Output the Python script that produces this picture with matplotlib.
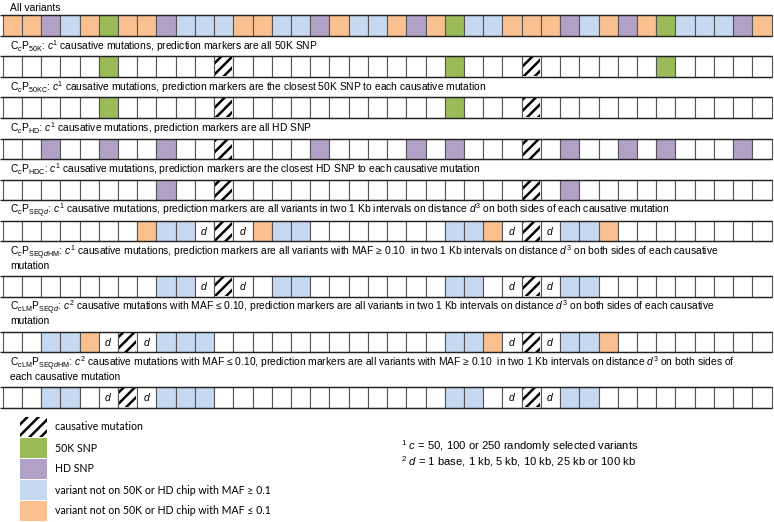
import matplotlib
matplotlib.use("Agg")
import matplotlib.pyplot as plt
from matplotlib.patches import Rectangle

plt.rcParams['font.family'] = ['Liberation Sans', 'DejaVu Sans']
plt.rcParams['mathtext.fontset'] = 'custom'
plt.rcParams['mathtext.rm'] = 'Liberation Sans'
plt.rcParams['mathtext.it'] = 'Liberation Sans:italic'
plt.rcParams['mathtext.bf'] = 'Liberation Sans:bold'
plt.rcParams['hatch.color'] = 'black'
plt.rcParams['hatch.linewidth'] = 1.8

N_CELLS = 40

# cell codes: G = 50K SNP, P = HD SNP, B = MAF >= 0.1, O = MAF <= 0.1,
# X = causative mutation, D = distance d, . = empty
def make_row(G=(), P=(), B=(), O=(), X=(), D=()):
    row = ['.'] * N_CELLS
    for code, idx in (('G', G), ('P', P), ('B', B), ('O', O), ('X', X), ('D', D)):
        for i in idx:
            row[i] = code
    return ''.join(row)

all_variants = "OOPBOGOOPBBBOOBBPOBBOPOGBBOOOPBOPOGBBBPO"

rows = [
    all_variants,
    make_row(G=[5, 23, 34], X=[11, 27]),
    make_row(G=[5, 23], X=[11, 27]),
    make_row(P=[2, 5, 8, 16, 21, 23, 29, 32, 34, 38], X=[11, 27]),
    make_row(P=[8, 29], X=[11, 27]),
    make_row(O=[7, 13, 25, 31], B=[8, 9, 14, 15, 23, 24, 29, 30], D=[10, 12, 26, 28], X=[11, 27]),
    make_row(B=[8, 9, 14, 15, 23, 24, 29, 30], D=[10, 12, 26, 28], X=[11, 27]),
    make_row(O=[4, 25, 31], B=[2, 3, 8, 9, 10, 23, 24, 29, 30], D=[5, 7, 26, 28], X=[6, 27]),
    make_row(B=[2, 3, 8, 9, 10, 23, 24, 29, 30], D=[5, 7, 26, 28], X=[6, 27]),
]

titles = [
    ["All variants"],
    [r"C$_{c}$P$_{\mathrm{50K}}$: $c^{1}$ causative mutations, prediction markers are all 50K SNP"],
    [r"C$_{c}$P$_{\mathrm{50KC}}$: $c^{1}$ causative mutations, prediction markers are the closest 50K SNP to each causative mutation"],
    [r"C$_{c}$P$_{\mathrm{HD}}$: $c^{1}$ causative mutations, prediction markers are all HD SNP"],
    [r"C$_{c}$P$_{\mathrm{HDC}}$: $c^{1}$ causative mutations, prediction markers are the closest HD SNP to each causative mutation"],
    [r"C$_{c}$P$_{\mathrm{SEQ}d}$: $c^{1}$ causative mutations, prediction markers are all variants in two 1 Kb intervals on distance $d^{3}$ on both sides of each causative mutation"],
    [r"C$_{c}$P$_{\mathrm{SEQ}d\mathrm{HM}}$: $c^{1}$ causative mutations, prediction markers are all variants with MAF ≥ 0.10  in two 1 Kb intervals on distance $d^{3}$ on both sides of each causative",
     "mutation"],
    [r"C$_{c\mathrm{LM}}$P$_{\mathrm{SEQ}d}$: $c^{2}$ causative mutations with MAF ≤ 0.10, prediction markers are all variants in two 1 Kb intervals on distance $d^{3}$ on both sides of each causative",
     "mutation"],
    [r"C$_{c\mathrm{LM}}$P$_{\mathrm{SEQ}d\mathrm{HM}}$: $c^{2}$ causative mutations with MAF ≤ 0.10, prediction markers are all variants with MAF ≥ 0.10  in two 1 Kb intervals on distance $d^{3}$ on both sides of",
     "each causative mutation"],
]

legend_codes = ['X', 'G', 'P', 'B', 'O']
legend_labels = ["causative mutation", "50K SNP", "HD SNP",
                 "variant not on 50K or HD chip with MAF ≥ 0.1",
                 "variant not on 50K or HD chip with MAF ≤ 0.1"]

footnotes = [r"$^{1}$ $c$ = 50, 100 or 250 randomly selected variants",
             r"$^{2}$ $d$ = 1 base, 1 kb, 5 kb, 10 kb, 25 kb or 100 kb"]

colors = {'G': '#9BBB59', 'P': '#B2A1C7', 'B': '#C6D9F0', 'O': '#FAC090',
          '.': 'white', 'X': 'white', 'D': 'white'}

# layout (pixels)
x0, cw, rh = 2.7, 19.22, 20.5
bar_tops = [15, 56, 97, 138.5, 179.5, 220.5, 276, 331.5, 387]
title_off = 10
line_gap = 13.5

fig = plt.figure(figsize=(7.74, 5.22), dpi=100)
ax = fig.add_axes([0, 0, 1, 1])
ax.set_xlim(0, 774)
ax.set_ylim(522, 0)
ax.axis('off')

for row, top, lines in zip(rows, bar_tops, titles):
    ty = top - title_off - line_gap * (len(lines) - 1)
    if top == bar_tops[0]:
        ty = top - 7
    for k, line in enumerate(lines):
        ax.text(10, ty + k * line_gap, line, fontsize=7.4, va='center', ha='left')
    for i, code in enumerate(row):
        x = x0 + i * cw
        ax.add_patch(Rectangle((x, top), cw, rh, facecolor=colors[code],
                               edgecolor='#555555', linewidth=0.8))
        if code == 'X':
            ax.add_patch(Rectangle((x + 1, top + 0.5), cw - 2, rh - 1, facecolor='none',
                                   hatch='///', edgecolor='black', linewidth=0))
        elif code == 'D':
            ax.text(x + cw / 2, top + rh / 2, r"$d$", fontsize=7.5, ha='center', va='center')
    ax.hlines([top, top + rh], 0, x0 + N_CELLS * cw, color='#222222', linewidth=1.0)

# legend
leg_top, leg_h = 417, 21
for k, (code, label) in enumerate(zip(legend_codes, legend_labels)):
    y = leg_top + k * leg_h
    if code == 'X':
        ax.add_patch(Rectangle((20, y), 27, leg_h - 1, facecolor='white',
                               hatch='///', edgecolor='black', linewidth=0))
    else:
        ax.add_patch(Rectangle((20, y), 27, leg_h - 1, facecolor=colors[code], linewidth=0))
    ax.text(55, y + leg_h / 2 - 0.5, label, fontsize=7.6, va='center', ha='left',
            family=['Lato', 'DejaVu Sans'])

for k, note in enumerate(footnotes):
    ax.text(401, 446 + k * 16, note, fontsize=8.1, va='center', ha='left')

fig.savefig('out.png', dpi=100)
